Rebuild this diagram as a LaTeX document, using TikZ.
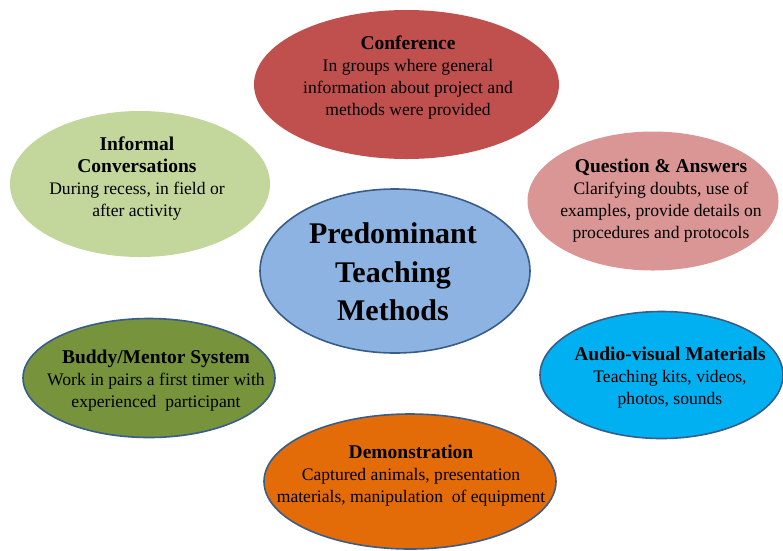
\documentclass[tikz,border=0pt]{standalone}
\usepackage{fontspec}
\setmainfont{Liberation Serif}
\usetikzlibrary{shapes.geometric}
\definecolor{confred}{HTML}{C0504D}
\definecolor{infgreen}{HTML}{C3D69B}
\definecolor{qapink}{HTML}{D99694}
\definecolor{ctrblue}{HTML}{8DB3E2}
\definecolor{buddygreen}{HTML}{77933C}
\definecolor{avcyan}{HTML}{00B0F0}
\definecolor{demoorange}{HTML}{E36C09}
\definecolor{rimblue}{HTML}{385D8A}
\newcommand{\mtitle}[1]{{\bfseries\fontsize{19.5}{22}\selectfont #1}}

\begin{document}
\begin{tikzpicture}[x=1pt,y=-1pt,
  method/.style={ellipse,inner sep=0pt},
  rimmed/.style={draw=rimblue,line width=1.6pt},
  txt/.style={align=center,inner sep=0pt,font=\fontsize{17.6}{22}\selectfont}]

\useasboundingbox (0,0) rectangle (783,550);

% ellipses
\node[method,fill=confred,minimum width=305pt,minimum height=149pt] (conf) at (406.5,84.5) {};
\node[method,fill=infgreen,minimum width=260pt,minimum height=146pt] (inf) at (140,184) {};
\node[method,fill=qapink,minimum width=251pt,minimum height=139pt] (qa) at (653,201) {};
\node[method,rimmed,fill=ctrblue,minimum width=270pt,minimum height=164pt] (ctr) at (395,271) {};
\node[method,rimmed,fill=buddygreen,minimum width=252pt,minimum height=119pt] (buddy) at (149,378) {};
\node[method,rimmed,fill=avcyan,minimum width=243pt,minimum height=127pt] (av) at (661.5,375) {};
\node[method,rimmed,fill=demoorange,minimum width=292pt,minimum height=135pt] (demo) at (410,481.5) {};

% texts
\node[txt] (conftxt) at ([shift={(1.5,-6.5)}]conf.center)
  {\mtitle{Conference}\\In groups where general\\information about project and\\methods were provided};
\node[txt] (inftxt) at ([shift={(-3,-5.5)}]inf.center)
  {\mtitle{Informal}\\\mtitle{Conversations}\\During recess, in field or\\after activity};
\node[txt] (qatxt) at ([shift={(8,0)}]qa.center)
  {\mtitle{Question \& Answers}\\Clarifying doubts, use of\\examples, provide details on\\procedures and protocols};
\node[txt,font=\bfseries\fontsize{30}{38.5}\selectfont] (ctrtxt) at ([shift={(-2,1)}]ctr.center)
  {Predominant\\Teaching\\Methods};
\node[txt] (buddytxt) at ([shift={(7,2.5)}]buddy.center)
  {\mtitle{Buddy/Mentor System}\\Work in pairs a first timer with\\experienced\ \ participant};
\node[txt] (avtxt) at ([shift={(8.5,3)}]av.center)
  {\mtitle{Audio-visual Materials}\\Teaching kits, videos,\\photos, sounds};
\node[txt] (demotxt) at ([shift={(1,-5.5)}]demo.center)
  {\mtitle{Demonstration}\\Captured animals, presentation\\materials, manipulation\ \ of equipment};

\end{tikzpicture}
\end{document}
